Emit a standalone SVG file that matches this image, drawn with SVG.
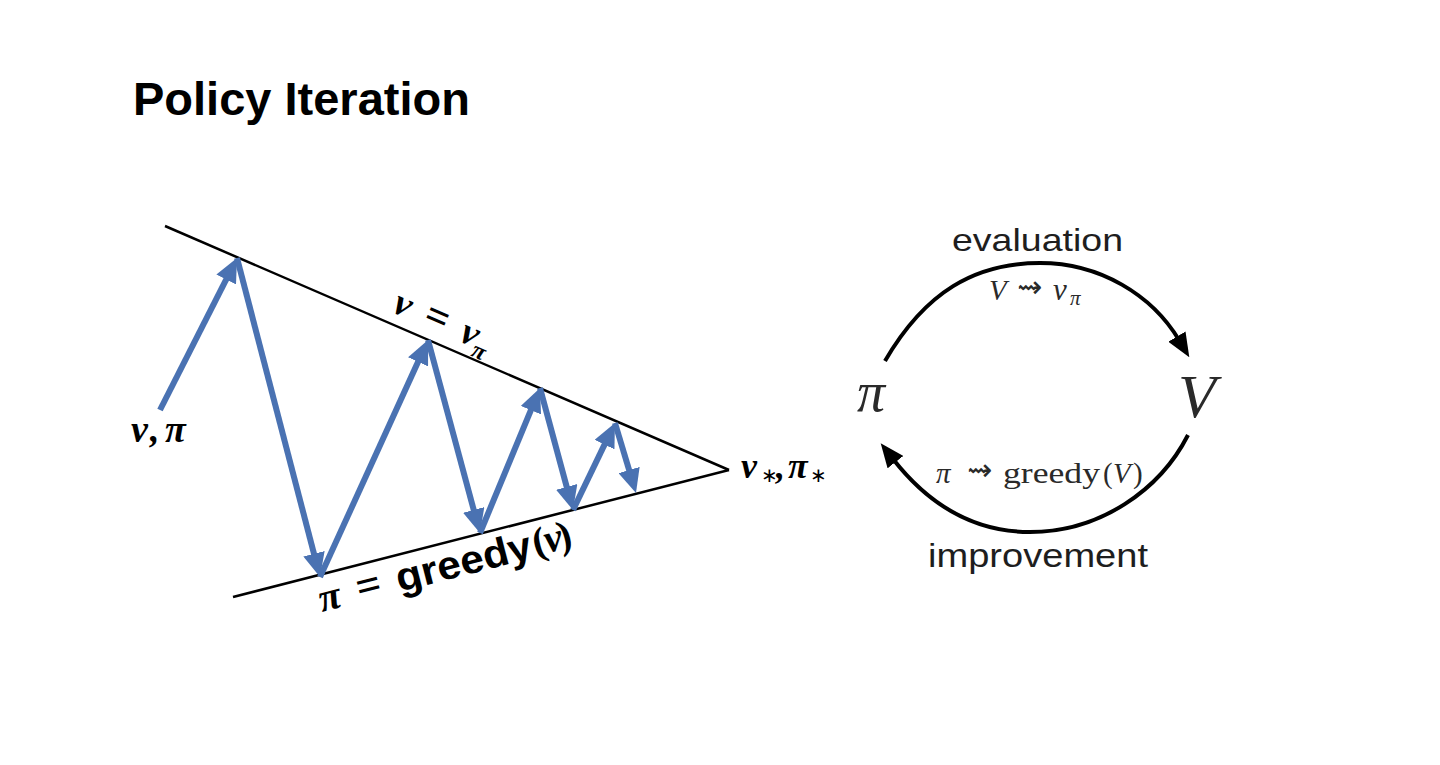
<svg xmlns="http://www.w3.org/2000/svg" width="1440" height="765" viewBox="0 0 1440 765">
<defs>
<style>
.bound{stroke:#000;stroke-width:2.5;fill:none}
.step{stroke:#4a72b2;stroke-width:6;fill:none;marker-end:url(#bh)}
.cyc{stroke:#000;stroke-width:4;fill:none;marker-end:url(#kh)}
.mathb{font-family:"Liberation Serif",serif;font-weight:bold;font-style:italic;fill:#000}
.op{font-style:normal}
.sans{font-family:"Liberation Sans",Arial,sans-serif}
.light{font-family:"Liberation Sans",Arial,sans-serif;fill:#1e1e1e}
.cm{font-family:"Liberation Serif",serif;fill:#2a2a2a}
.sq{font-family:"DejaVu Sans",sans-serif}
</style>
<marker id="bh" viewBox="0 0 24 22" refX="8" refY="11" markerWidth="24" markerHeight="22" markerUnits="userSpaceOnUse" orient="auto">
<path d="M0,0 L24,11 L0,22 z" fill="#4a72b2"/>
</marker>
<marker id="kh" viewBox="0 0 24 20" refX="4" refY="10" markerWidth="24" markerHeight="20" markerUnits="userSpaceOnUse" orient="auto">
<path d="M0,0 L24,10 L0,20 z" fill="#000"/>
</marker>
</defs>
<rect width="1440" height="765" fill="#fff"/>

<g id="title">
<text x="133" y="115" class="sans" font-size="47" font-weight="bold" fill="#000">Policy Iteration</text>
</g>

<g id="value-line">
<line class="bound" x1="165" y1="226" x2="729" y2="470"/>
<g transform="translate(390,311) rotate(23.4)">
<text class="mathb" font-size="38"><tspan x="1" y="0">v</tspan><tspan class="op" x="34" y="0" font-size="42">=</tspan><tspan x="74" y="0">v</tspan><tspan x="91" y="9" font-size="24">π</tspan></text>
</g>
</g>

<g id="policy-line">
<line class="bound" x1="233" y1="597" x2="729" y2="470"/>
<g transform="translate(322,612) rotate(-14.4)">
<text font-size="40"><tspan class="mathb" x="0" y="0">π</tspan><tspan class="mathb op" x="39" y="0" font-size="44">=</tspan><tspan class="sans" x="80" y="0" font-size="40" font-weight="bold" textLength="139" lengthAdjust="spacingAndGlyphs">greedy</tspan><tspan class="mathb op" x="221" y="-1" font-weight="normal">(</tspan><tspan class="mathb" x="233" y="-1">v</tspan><tspan class="mathb op" x="247" y="-1" font-weight="normal">)</tspan></text>
</g>
</g>

<g id="start-node">
<text class="mathb" font-size="38"><tspan x="131" y="442">v</tspan><tspan x="150" y="442">,</tspan><tspan x="165" y="442">π</tspan></text>
</g>

<g id="optimum-node">
<text class="mathb" font-size="36"><tspan x="741" y="478">v</tspan><tspan class="op" x="761" y="482" font-size="20" font-weight="normal">∗</tspan><tspan x="776" y="478">,</tspan><tspan x="788" y="478">π</tspan><tspan class="op" x="810" y="482" font-size="20" font-weight="normal">∗</tspan></text>
</g>

<g id="pi-node">
<text class="cm" x="857" y="411" font-size="56" font-style="italic">π</text>
</g>

<g id="V-node">
<text class="cm" x="1178" y="417" font-size="62" font-style="italic">V</text>
</g>

<g id="evaluation-label">
<text class="light" x="952" y="251" font-size="32" textLength="171" lengthAdjust="spacingAndGlyphs">evaluation</text>
<text class="cm" font-size="29"><tspan x="989" y="300" font-style="italic">V</tspan><tspan class="sq" x="1017" y="297" font-size="30">⇝</tspan><tspan x="1053" y="300" font-style="italic" font-size="31">v</tspan><tspan x="1070" y="305" font-size="21" font-style="italic">π</tspan></text>
</g>

<g id="improvement-label">
<text class="light" x="928" y="567" font-size="33" textLength="220" lengthAdjust="spacingAndGlyphs">improvement</text>
<text class="cm" font-size="29"><tspan x="936" y="483" font-style="italic">π</tspan><tspan class="sq" x="967" y="480" font-size="30">⇝</tspan><tspan x="1003" y="483" textLength="97" lengthAdjust="spacingAndGlyphs">greedy</tspan><tspan x="1103" y="483">(</tspan><tspan x="1113" y="483" font-style="italic">V</tspan><tspan x="1133" y="483">)</tspan></text>
</g>

<g id="connectors">
<line class="step" x1="160" y1="410" x2="229.8" y2="272.3"/>
<line class="step" x1="237" y1="258" x2="316.0" y2="561.5"/>
<line class="step" x1="320" y1="577" x2="421.4" y2="354.6"/>
<line class="step" x1="428" y1="340" x2="475.8" y2="517.6"/>
<line class="step" x1="480" y1="533" x2="533.9" y2="402.8"/>
<line class="step" x1="540" y1="388" x2="568.8" y2="494.6"/>
<line class="step" x1="573" y1="510" x2="608.0" y2="437.4"/>
<line class="step" x1="615" y1="423" x2="631.4" y2="477.7"/>
<path class="cyc" d="M885,361 C925,292 975,263 1040,263 C1100,263 1152,295 1179,340"/>
<path class="cyc" d="M1188,435 C1160,490 1100,532 1030,532 C970,532 925,500 893,459"/>
</g>
</svg>
